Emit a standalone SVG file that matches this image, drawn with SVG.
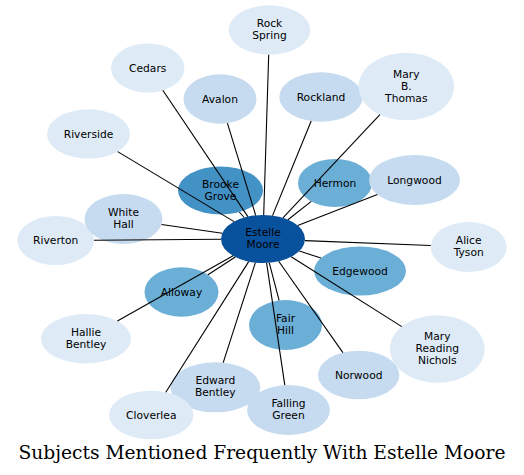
<svg xmlns="http://www.w3.org/2000/svg" width="524" height="475" viewBox="0 0 524 475">
<style>
.n text{font-family:"DejaVu Sans",sans-serif;font-size:10.7px;fill:#000;text-anchor:middle}
.c1{fill:#08519c}.c2{fill:#4292c6}.c3{fill:#6baed6}.c4{fill:#c6dbef}.c5{fill:#deebf7}
#edges line{stroke:#000;stroke-width:1.1}
.title{font-family:"DejaVu Serif",serif;font-size:18.67px;fill:#000;text-anchor:middle}
</style>
<rect width="524" height="475" fill="#fff"/>
<g id="n-estelle" class="n"><ellipse class="c1" cx="263" cy="239" rx="42" ry="24"/><text x="263" y="236">Estelle</text><text x="263" y="248">Moore</text></g>
<g id="n-brooke" class="n"><ellipse class="c2" cx="220.5" cy="190.5" rx="42.5" ry="24"/><text x="220.5" y="187.5">Brooke</text><text x="220.5" y="199.5">Grove</text></g>
<g id="n-hermon" class="n"><ellipse class="c3" cx="335" cy="183" rx="37" ry="24"/><text x="335" y="186.5">Hermon</text></g>
<g id="n-longwood" class="n"><ellipse class="c4" cx="414.5" cy="180" rx="45.5" ry="25"/><text x="414.5" y="183.5">Longwood</text></g>
<g id="n-alice" class="n"><ellipse class="c5" cx="468.7" cy="247" rx="38" ry="25"/><text x="468.7" y="244">Alice</text><text x="468.7" y="256">Tyson</text></g>
<g id="n-edgewood" class="n"><ellipse class="c3" cx="360" cy="271" rx="46" ry="24.5"/><text x="360" y="274.5">Edgewood</text></g>
<g id="n-mrn" class="n"><ellipse class="c5" cx="437.3" cy="349" rx="47.3" ry="33.8"/><text x="437.3" y="340">Mary</text><text x="437.3" y="352">Reading</text><text x="437.3" y="364">Nichols</text></g>
<g id="n-norwood" class="n"><ellipse class="c4" cx="358.7" cy="375" rx="40.7" ry="24.3"/><text x="358.7" y="378.5">Norwood</text></g>
<g id="n-falling" class="n"><ellipse class="c4" cx="288.5" cy="410" rx="41.5" ry="25"/><text x="288.5" y="407">Falling</text><text x="288.5" y="419">Green</text></g>
<g id="n-fairhill" class="n"><ellipse class="c3" cx="285.5" cy="325" rx="36.5" ry="25"/><text x="285.5" y="322">Fair</text><text x="285.5" y="334">Hill</text></g>
<g id="n-edward" class="n"><ellipse class="c4" cx="215.3" cy="387.3" rx="45" ry="25"/><text x="215.3" y="384.3">Edward</text><text x="215.3" y="396.3">Bentley</text></g>
<g id="n-cloverlea" class="n"><ellipse class="c5" cx="151.3" cy="415" rx="42.3" ry="24.3"/><text x="151.3" y="418.5">Cloverlea</text></g>
<g id="n-alloway" class="n"><ellipse class="c3" cx="181.5" cy="292" rx="37" ry="24.7"/><text x="181.5" y="295.5">Alloway</text></g>
<g id="n-hallie" class="n"><ellipse class="c5" cx="86" cy="338.7" rx="45" ry="24.7"/><text x="86" y="335.7">Hallie</text><text x="86" y="347.7">Bentley</text></g>
<g id="n-riverton" class="n"><ellipse class="c5" cx="55.7" cy="240.5" rx="38.3" ry="24.5"/><text x="55.7" y="244">Riverton</text></g>
<g id="n-whitehall" class="n"><ellipse class="c4" cx="123.5" cy="219" rx="39" ry="25"/><text x="123.5" y="216">White</text><text x="123.5" y="228">Hall</text></g>
<g id="n-riverside" class="n"><ellipse class="c5" cx="88.5" cy="134" rx="41.5" ry="24.7"/><text x="88.5" y="137.5">Riverside</text></g>
<g id="n-cedars" class="n"><ellipse class="c5" cx="147.7" cy="68" rx="36.7" ry="24.5"/><text x="147.7" y="71.5">Cedars</text></g>
<g id="n-avalon" class="n"><ellipse class="c4" cx="220" cy="99" rx="36.5" ry="24.7"/><text x="220" y="102.5">Avalon</text></g>
<g id="n-rockspring" class="n"><ellipse class="c5" cx="269.5" cy="30" rx="40.8" ry="24.7"/><text x="269.5" y="27">Rock</text><text x="269.5" y="39">Spring</text></g>
<g id="n-rockland" class="n"><ellipse class="c4" cx="321" cy="97" rx="41.7" ry="24.7"/><text x="321" y="100.5">Rockland</text></g>
<g id="n-mbt" class="n"><ellipse class="c5" cx="406.3" cy="86.5" rx="47.7" ry="33.8"/><text x="406.3" y="77.5">Mary</text><text x="406.3" y="89.5">B.</text><text x="406.3" y="101.5">Thomas</text></g>
<g id="edges">
<line x1="244.2" y1="217.5" x2="239.3" y2="212.0"/>
<line x1="287.9" y1="219.7" x2="311.3" y2="201.4"/>
<line x1="297.7" y1="225.5" x2="377.4" y2="194.5"/>
<line x1="304.9" y1="240.6" x2="430.8" y2="245.5"/>
<line x1="299.4" y1="251" x2="320.9" y2="258.1"/>
<line x1="291.2" y1="256.8" x2="401.8" y2="326.6"/>
<line x1="278.7" y1="261.3" x2="342.9" y2="352.6"/>
<line x1="266.6" y1="262.9" x2="284.8" y2="385.1"/>
<line x1="269.2" y1="262.7" x2="279.1" y2="300.4"/>
<line x1="255.4" y1="262.6" x2="223.2" y2="362.7"/>
<line x1="248.7" y1="261.6" x2="165.8" y2="392.2"/>
<line x1="235.3" y1="257" x2="208" y2="274.8"/>
<line x1="233.1" y1="255.8" x2="117.4" y2="321"/>
<line x1="221" y1="239.3" x2="94" y2="240.2"/>
<line x1="222.3" y1="233.2" x2="161.6" y2="224.5"/>
<line x1="234.1" y1="221.6" x2="117.7" y2="151.6"/>
<line x1="247.9" y1="216.6" x2="162.8" y2="90.3"/>
<line x1="255.7" y1="215.4" x2="227.4" y2="123.2"/>
<line x1="263.7" y1="215" x2="268.7" y2="54.7"/>
<line x1="272.5" y1="215.6" x2="311.2" y2="121"/>
<line x1="282.9" y1="217.8" x2="379.9" y2="114.6"/>
</g>
<text class="title" x="262" y="459">Subjects Mentioned Frequently With Estelle Moore</text>
</svg>
